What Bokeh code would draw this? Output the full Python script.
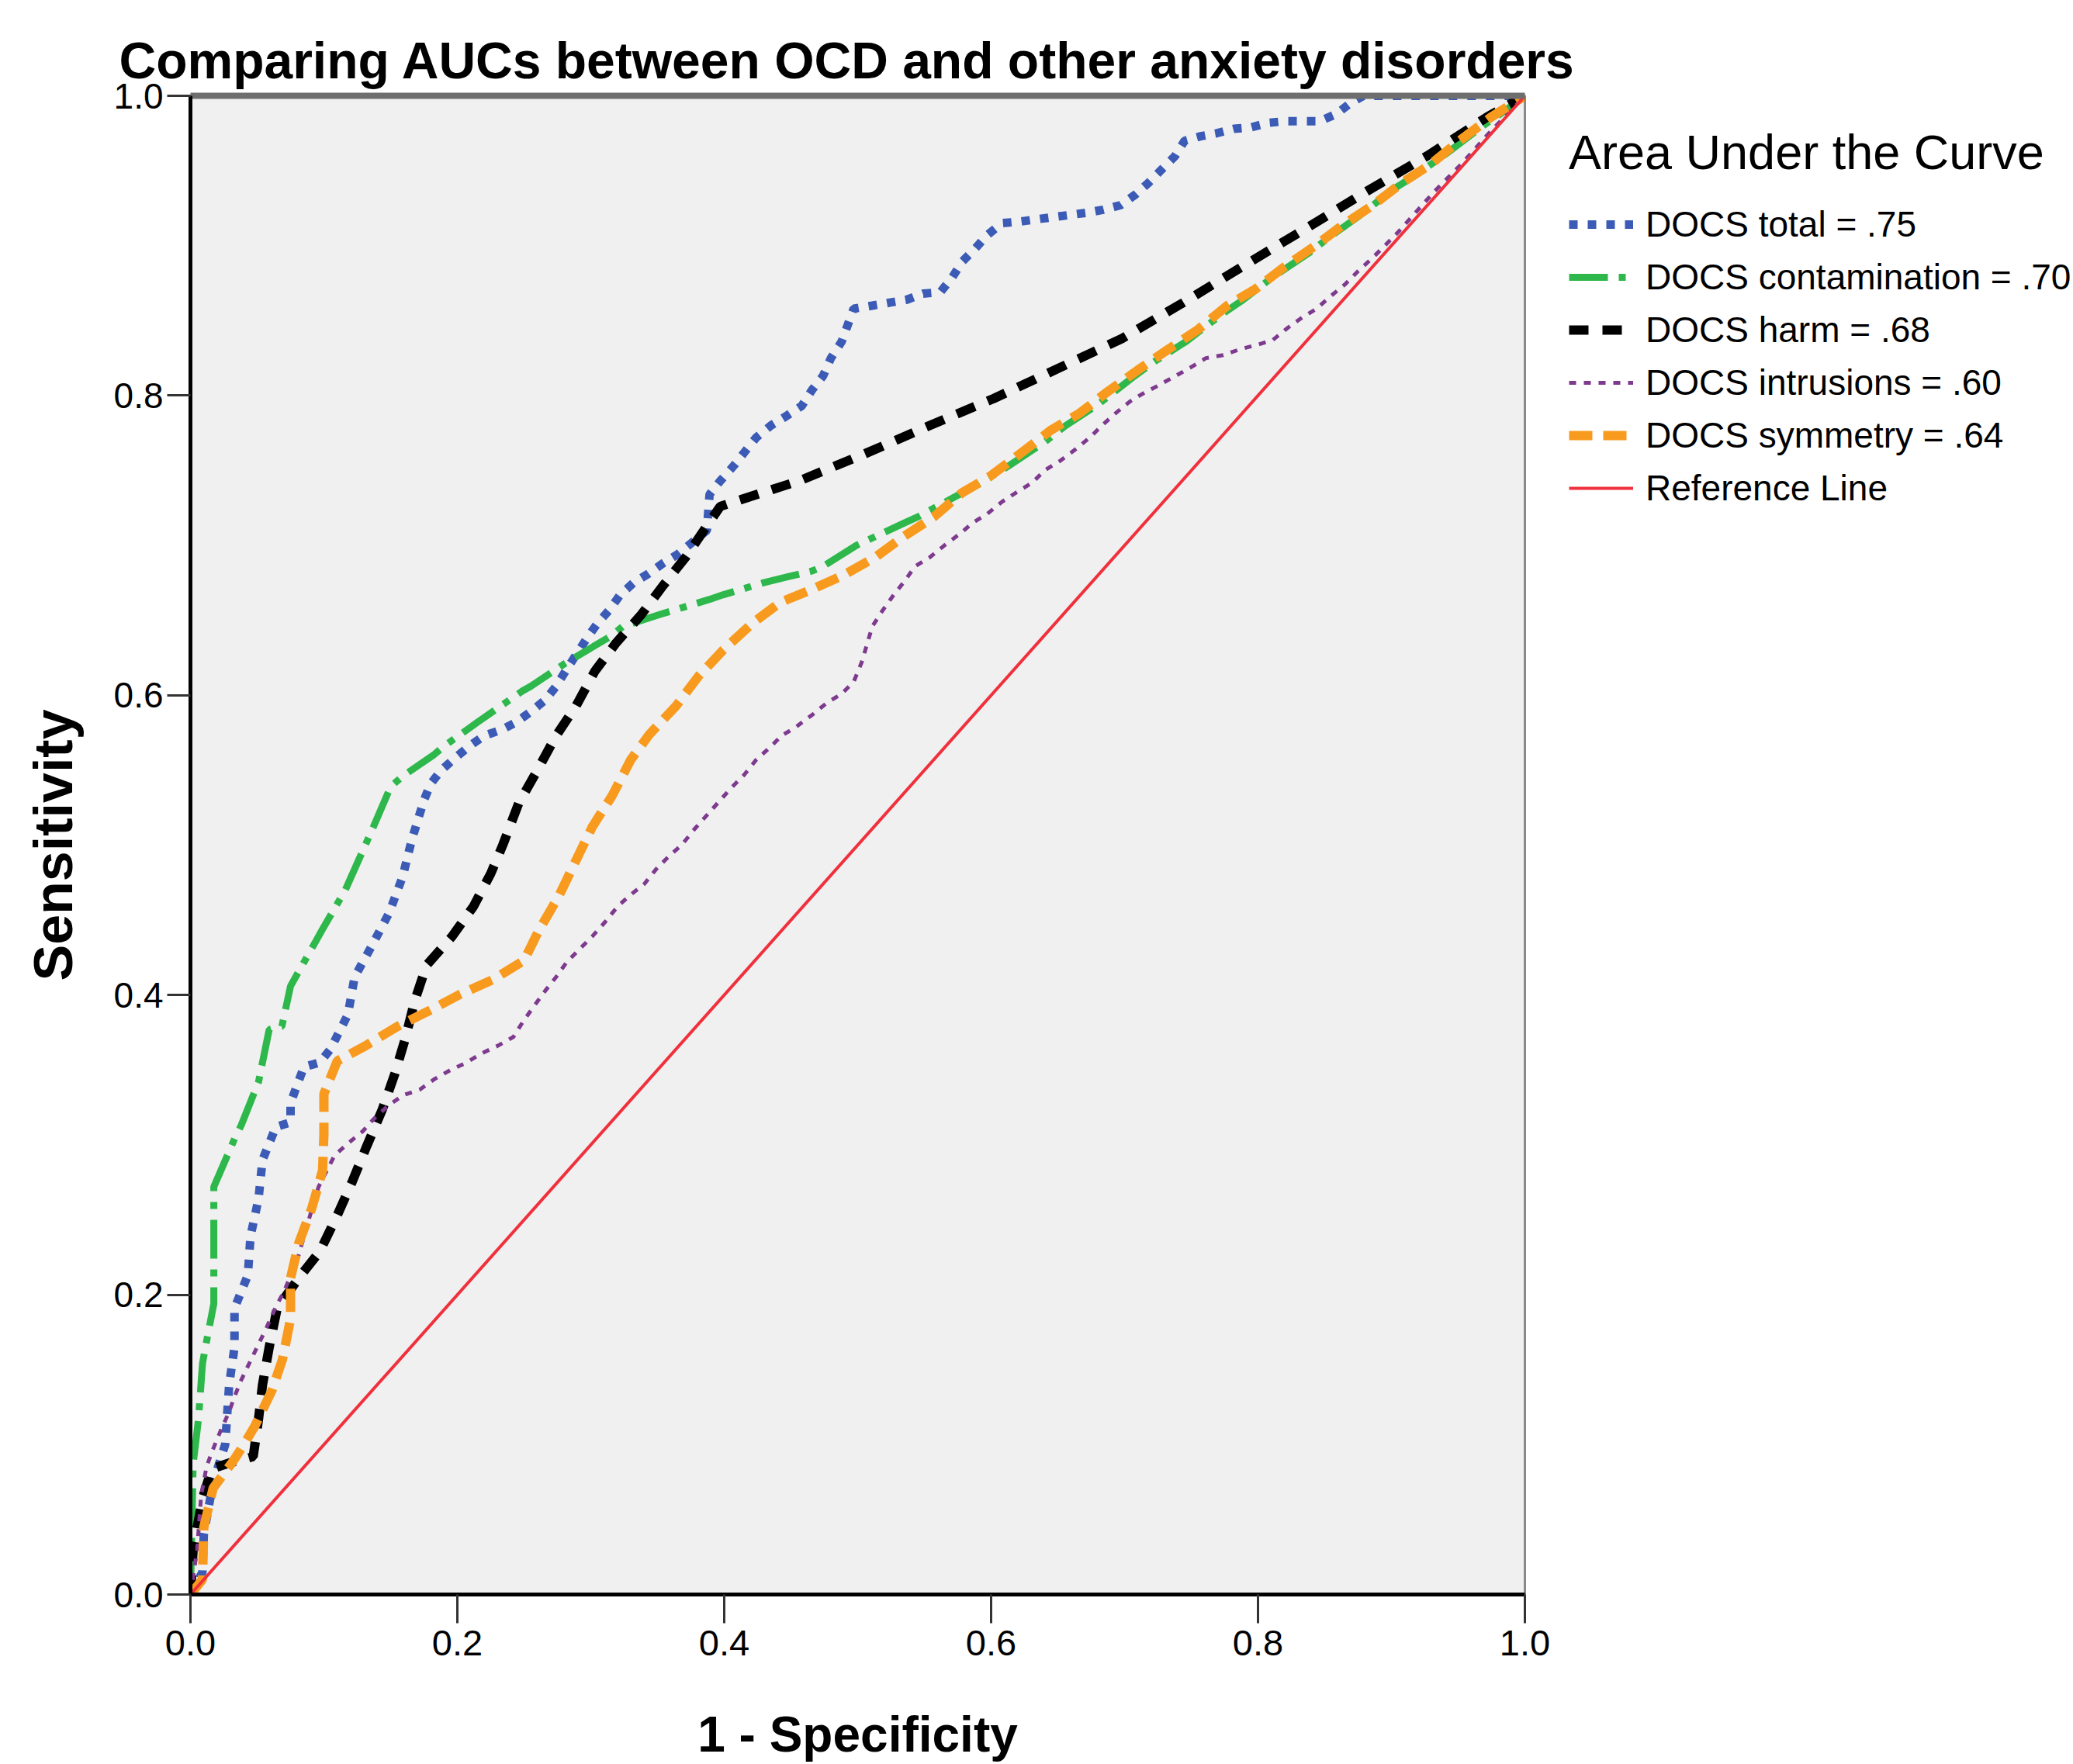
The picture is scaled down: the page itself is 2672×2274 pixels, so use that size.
from bokeh.plotting import figure
from bokeh.models import Range1d, FixedTicker, PrintfTickFormatter, Legend, LegendItem, LinearAxis
from bokeh.embed import file_html
from bokeh.resources import INLINE

# ---- data ----
tick_vals = [0.0, 0.2, 0.4, 0.6, 0.8, 1.0]

total_x = [0, 0.009, 0.010, 0.017, 0.026, 0.029, 0.033, 0.033, 0.043, 0.045, 0.051, 0.054, 0.064, 0.075,
           0.075, 0.085, 0.097, 0.105, 0.118, 0.123, 0.136, 0.149, 0.159, 0.166, 0.175, 0.180, 0.188, 0.198,
           0.209, 0.220, 0.233, 0.244, 0.255, 0.266, 0.274, 0.281, 0.289, 0.297, 0.305, 0.314, 0.322, 0.332,
           0.343, 0.354, 0.365, 0.376, 0.387, 0.389, 0.397, 0.407, 0.415, 0.424, 0.435, 0.446, 0.458, 0.466,
           0.474, 0.480, 0.488, 0.497, 0.511, 0.524, 0.537, 0.549, 0.562, 0.571, 0.578, 0.588, 0.597, 0.608,
           0.621, 0.646, 0.672, 0.684, 0.697, 0.708, 0.718, 0.728, 0.738, 0.745, 0.757, 0.769, 0.782, 0.795,
           0.808, 0.820, 0.846, 0.859, 0.869, 0.879, 1.0]
total_y = [0, 0.015, 0.040, 0.075, 0.100, 0.140, 0.165, 0.191, 0.213, 0.239, 0.264, 0.290, 0.312, 0.315,
           0.328, 0.352, 0.355, 0.364, 0.387, 0.412, 0.433, 0.455, 0.479, 0.504, 0.530, 0.541, 0.550, 0.558,
           0.566, 0.573, 0.577, 0.582, 0.589, 0.597, 0.606, 0.616, 0.627, 0.638, 0.648, 0.657, 0.667, 0.675,
           0.681, 0.688, 0.694, 0.702, 0.710, 0.734, 0.743, 0.753, 0.762, 0.772, 0.780, 0.786, 0.793, 0.804,
           0.813, 0.825, 0.836, 0.858, 0.860, 0.862, 0.864, 0.868, 0.869, 0.879, 0.889, 0.898, 0.907, 0.915,
           0.916, 0.919, 0.922, 0.924, 0.927, 0.934, 0.942, 0.951, 0.960, 0.970, 0.973, 0.975, 0.978, 0.979,
           0.982, 0.983, 0.983, 0.988, 0.995, 1.0, 1.0]

contam_x = [0, 0.002, 0.006, 0.009, 0.011, 0.0175, 0.0175, 0.0335, 0.038, 0.051, 0.059, 0.0685, 0.075,
            0.094, 0.099, 0.116, 0.131, 0.137, 0.150, 0.159, 0.182, 0.190, 0.215, 0.249, 0.255, 0.282, 0.316,
            0.324, 0.352, 0.389, 0.399, 0.429, 0.466, 0.474, 0.499, 0.535, 0.545, 0.572, 0.589, 0.613, 0.640,
            0.656, 0.680, 0.706, 0.723, 0.746, 0.771, 0.789, 0.811, 0.838, 0.854, 0.876, 0.902, 0.918, 0.942,
            0.967, 0.985, 1.0]
contam_y = [0, 0.087, 0.117, 0.154, 0.164, 0.194, 0.272, 0.305, 0.313, 0.342, 0.377, 0.379, 0.406,
            0.436, 0.444, 0.470, 0.500, 0.512, 0.539, 0.546, 0.560, 0.566, 0.582, 0.603, 0.606, 0.622, 0.640,
            0.646, 0.654, 0.664, 0.667, 0.675, 0.683, 0.686, 0.700, 0.715, 0.719, 0.732, 0.740, 0.753, 0.769,
            0.780, 0.794, 0.812, 0.823, 0.836, 0.853, 0.864, 0.879, 0.895, 0.906, 0.920, 0.938, 0.947, 0.962,
            0.979, 0.990, 1.0]

harm_x = [0, 0.002, 0.009, 0.016, 0.030, 0.047, 0.051, 0.054, 0.059, 0.065, 0.081, 0.097, 0.110, 0.121,
          0.132, 0.1435, 0.153, 0.161, 0.168, 0.177, 0.196, 0.212, 0.225, 0.234, 0.246, 0.260, 0.274, 0.289,
          0.303, 0.319, 0.338, 0.354, 0.371, 0.387, 0.397, 0.407, 0.456, 0.505, 0.554, 0.602, 0.650, 0.698,
          0.744, 0.790, 0.835, 0.881, 0.927, 0.972, 1.0]
harm_y = [0, 0.030, 0.064, 0.084, 0.088, 0.092, 0.117, 0.140, 0.165, 0.191, 0.211, 0.229, 0.253, 0.275,
          0.299, 0.323, 0.347, 0.371, 0.396, 0.420, 0.439, 0.459, 0.481, 0.500, 0.528, 0.550, 0.573, 0.593,
          0.616, 0.635, 0.654, 0.673, 0.692, 0.713, 0.726, 0.729, 0.743, 0.761, 0.780, 0.798, 0.818, 0.838,
          0.862, 0.887, 0.911, 0.936, 0.960, 0.986, 1.0]

intru_x = [0, 0.005, 0.008, 0.012, 0.016, 0.022, 0.029, 0.033, 0.038, 0.045, 0.051, 0.057, 0.064, 0.070,
           0.080, 0.088, 0.096, 0.108, 0.118, 0.129, 0.137, 0.148, 0.159, 0.172, 0.183, 0.195, 0.207, 0.218,
           0.230, 0.242, 0.249, 0.257, 0.266, 0.274, 0.282, 0.292, 0.301, 0.311, 0.320, 0.330, 0.340, 0.349,
           0.359, 0.368, 0.378, 0.387, 0.395, 0.405, 0.415, 0.424, 0.434, 0.443, 0.454, 0.466, 0.477, 0.488,
           0.497, 0.503, 0.511, 0.519, 0.527, 0.535, 0.543, 0.554, 0.565, 0.577, 0.586, 0.597, 0.608, 0.620,
           0.631, 0.640, 0.651, 0.663, 0.674, 0.683, 0.693, 0.704, 0.715, 0.726, 0.738, 0.750, 0.761, 0.774,
           0.787, 0.800, 0.811, 0.822, 0.833, 0.844, 0.854, 0.865, 0.875, 0.886, 0.895, 0.905, 0.915, 0.932,
           0.953, 0.972, 1.0]
intru_y = [0, 0.030, 0.066, 0.085, 0.095, 0.108, 0.122, 0.132, 0.143, 0.156, 0.167, 0.178, 0.192, 0.202,
           0.223, 0.248, 0.272, 0.293, 0.301, 0.309, 0.317, 0.326, 0.333, 0.337, 0.344, 0.350, 0.355, 0.361,
           0.366, 0.372, 0.382, 0.392, 0.403, 0.412, 0.422, 0.431, 0.439, 0.449, 0.459, 0.467, 0.474, 0.484,
           0.493, 0.500, 0.511, 0.520, 0.528, 0.538, 0.547, 0.557, 0.565, 0.573, 0.579, 0.587, 0.595, 0.601,
           0.609, 0.622, 0.646, 0.657, 0.667, 0.676, 0.686, 0.692, 0.700, 0.708, 0.715, 0.721, 0.729, 0.736,
           0.742, 0.750, 0.756, 0.764, 0.772, 0.780, 0.788, 0.796, 0.802, 0.807, 0.813, 0.819, 0.825, 0.827,
           0.831, 0.834, 0.837, 0.845, 0.852, 0.858, 0.866, 0.874, 0.883, 0.892, 0.900, 0.909, 0.919, 0.936,
           0.955, 0.974, 1.0]

symm_x = [0, 0.009, 0.010, 0.017, 0.032, 0.040, 0.048, 0.061, 0.069, 0.075, 0.075, 0.081, 0.091, 0.099,
          0.100, 0.100, 0.110, 0.131, 0.155, 0.180, 0.201, 0.226, 0.250, 0.261, 0.276, 0.289, 0.301, 0.316,
          0.330, 0.344, 0.364, 0.381, 0.399, 0.421, 0.442, 0.464, 0.489, 0.513, 0.533, 0.557, 0.578, 0.599,
          0.623, 0.645, 0.666, 0.688, 0.710, 0.733, 0.755, 0.777, 0.798, 0.820, 0.843, 0.864, 0.886, 0.908,
          0.929, 0.951, 0.975, 1.0]
symm_y = [0, 0.010, 0.045, 0.071, 0.089, 0.100, 0.112, 0.136, 0.157, 0.184, 0.211, 0.234, 0.258, 0.283,
          0.307, 0.334, 0.356, 0.366, 0.379, 0.390, 0.400, 0.410, 0.423, 0.443, 0.466, 0.490, 0.512, 0.533,
          0.557, 0.574, 0.593, 0.613, 0.630, 0.648, 0.662, 0.670, 0.680, 0.692, 0.705, 0.719, 0.735, 0.746,
          0.762, 0.777, 0.788, 0.803, 0.817, 0.831, 0.844, 0.860, 0.871, 0.886, 0.900, 0.914, 0.927, 0.942,
          0.954, 0.970, 0.986, 1.0]

ref_x = [0.0, 1.0]
ref_y = [0.0, 1.0]

labels = ["DOCS total = .75", "DOCS contamination = .70", "DOCS harm = .68",
          "DOCS intrusions = .60", "DOCS symmetry = .64", "Reference Line"]

FONT = "Liberation Sans"

p = figure(frame_width=1720, frame_height=1932, x_range=Range1d(0, 1), y_range=Range1d(0, 1),
           output_backend="svg", toolbar_location=None,
           min_border_left=245, min_border_right=707, min_border_top=123, min_border_bottom=219,
           background_fill_color="#F0F0F0", border_fill_color="white")
p.grid.visible = False
p.outline_line_color = "#8A8A8A"
p.outline_line_width = 3

p.title.text = "Comparing AUCs between OCD and other anxiety disorders"
p.title.text_font = FONT
p.title.text_font_size = "66px"
p.title.text_font_style = "bold"
p.title.text_color = "black"
p.title.align = "left"
p.title.standoff = 17
p.title.offset = -92

for ax in (p.xaxis[0], p.yaxis[0]):
    ax.ticker = FixedTicker(ticks=tick_vals)
    ax.formatter = PrintfTickFormatter(format="%.1f")
    ax.axis_line_color = "black"
    ax.axis_line_width = 5
    ax.major_tick_in = 0
    ax.minor_tick_in = 0
    ax.minor_tick_out = 0
    ax.major_tick_line_color = "#333333"
    ax.major_tick_line_width = 3
    ax.major_label_text_font = FONT
    ax.major_label_text_color = "black"
    ax.axis_label_text_font = FONT
    ax.axis_label_text_font_style = "bold"
    ax.axis_label_text_color = "black"

p.xaxis.major_tick_out = 37
p.xaxis.major_label_text_font_size = "47px"
p.xaxis.major_label_standoff = 9
p.xaxis.axis_label = "1 - Specificity"
p.xaxis.axis_label_text_font_size = "64px"
p.xaxis.axis_label_standoff = 63

p.yaxis.major_tick_out = 30
p.yaxis.major_label_text_font_size = "46px"
p.yaxis.major_label_standoff = 5
p.yaxis.axis_label = "Sensitivity"
p.yaxis.axis_label_text_font_size = "70px"
p.yaxis.axis_label_standoff = 36

top_axis = LinearAxis(ticker=FixedTicker(ticks=[]), axis_line_color="#6E6E6E", axis_line_width=8,
                      major_tick_out=0, major_tick_in=0, minor_tick_out=0, minor_tick_in=0,
                      major_label_text_font_size="0px")
p.add_layout(top_axis, "above")

r_total = p.line(total_x, total_y, line_color="#3B5BB6", line_width=11, line_dash="11 13")
r_contam = p.line(contam_x, contam_y, line_color="#2EB84B", line_width=9, line_dash="50 14 9 14")
r_harm = p.line(harm_x, harm_y, line_color="black", line_width=12, line_dash="25 18")
r_intru = p.line(intru_x, intru_y, line_color="#7E3A8E", line_width=5, line_dash="9 10")
r_symm = p.line(symm_x, symm_y, line_color="#F89A1E", line_width=12, line_dash="30 14")
r_ref = p.line(ref_x, ref_y, line_color="#F0303C", line_width=4)

renderers = [r_total, r_contam, r_harm, r_intru, r_symm, r_ref]
items = [LegendItem(label=lab, renderers=[r]) for lab, r in zip(labels, renderers)]

legend = Legend(items=items, location=(57, 1393), title="Area Under the Curve",
                title_text_font=FONT, title_text_font_size="63px", title_text_font_style="normal",
                title_text_color="black", title_standoff=23,
                label_text_font=FONT, label_text_font_size="46px", label_text_color="black",
                glyph_width=83, glyph_height=20, label_height=67, spacing=1,
                padding=0, margin=0, label_standoff=16,
                border_line_color=None, background_fill_alpha=0)
p.add_layout(legend, "right")

open("out.html", "w").write(file_html(p, INLINE))
